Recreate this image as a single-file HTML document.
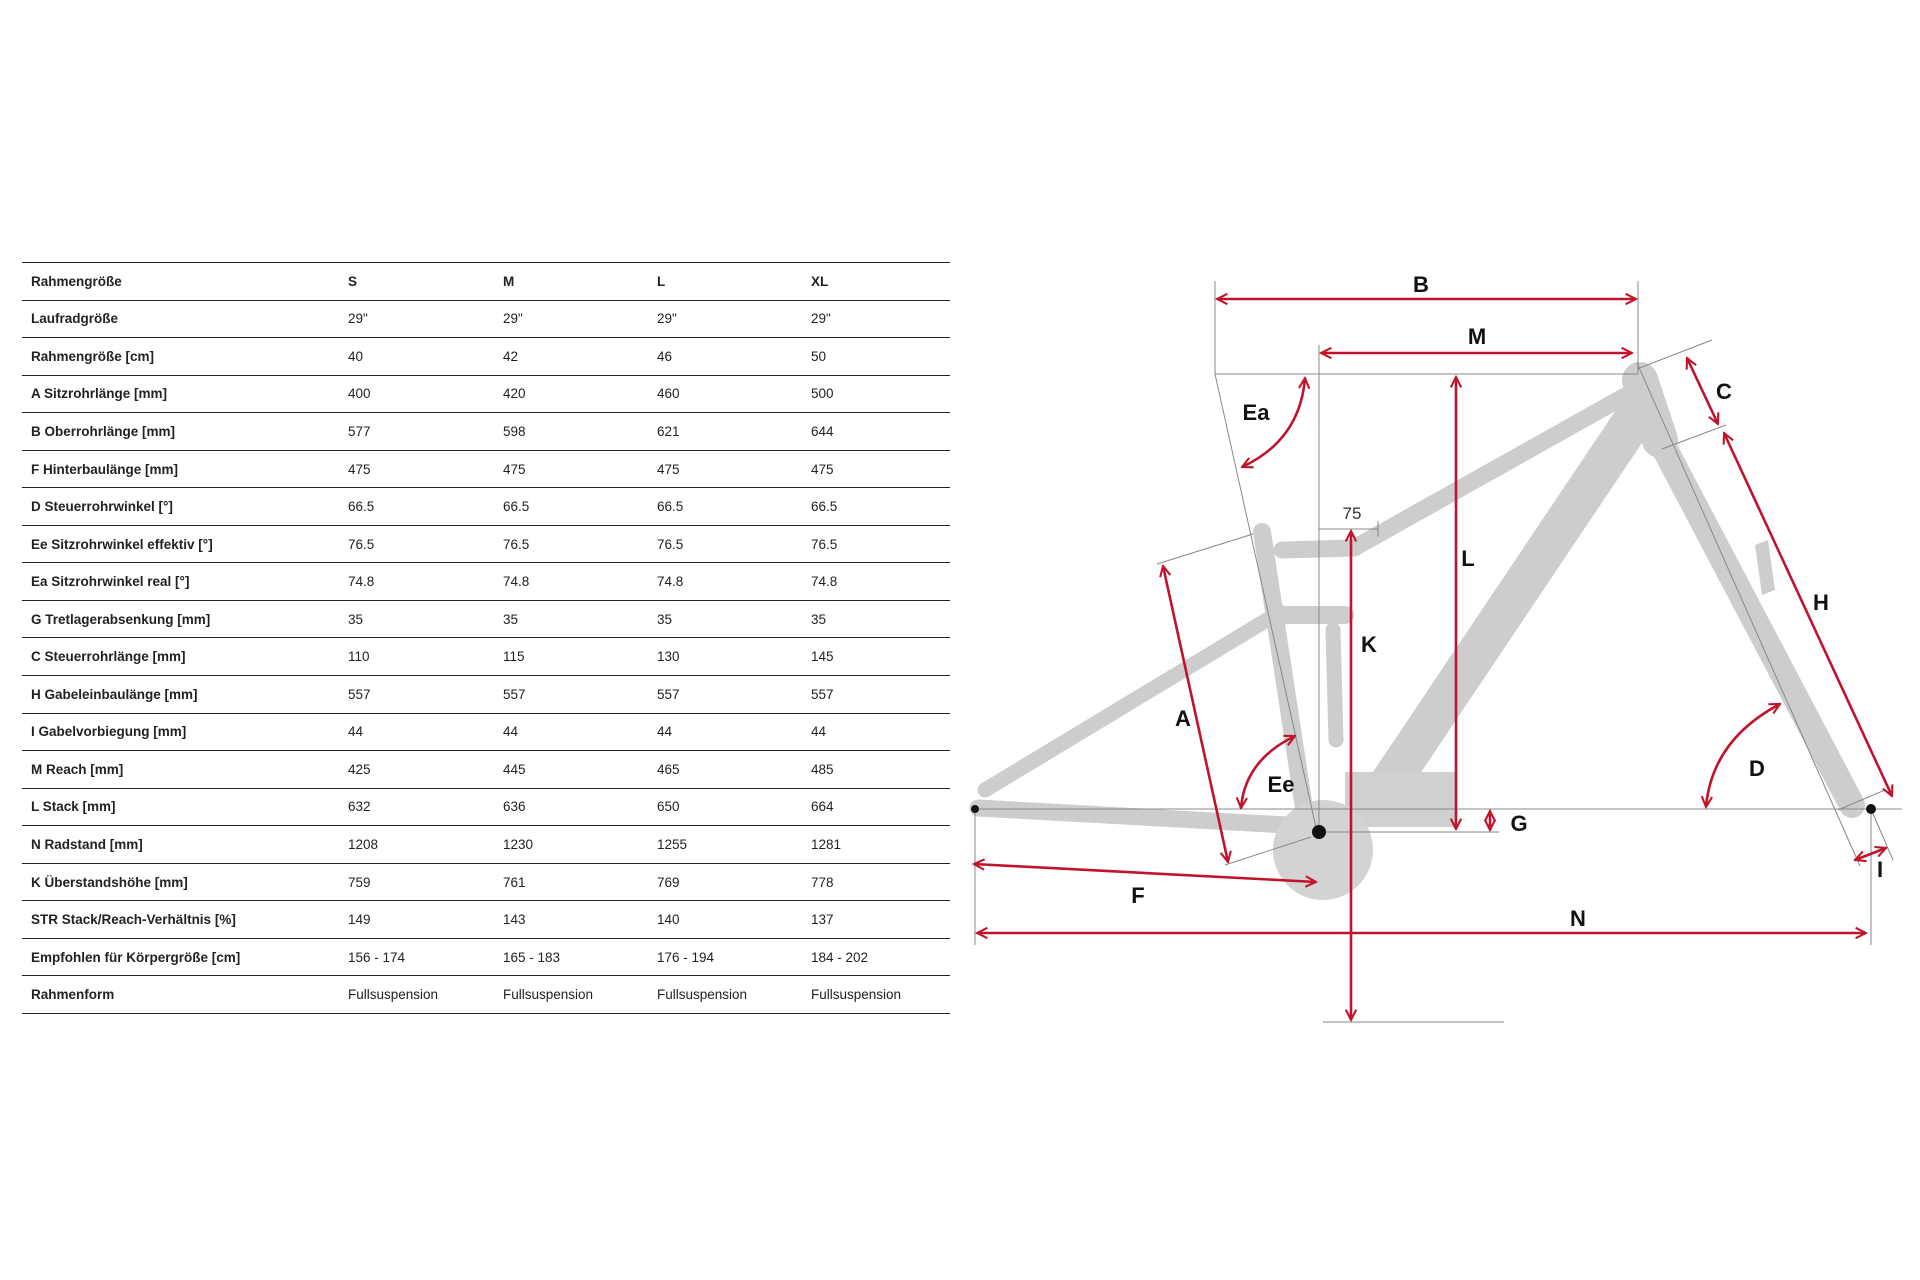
<!DOCTYPE html>
<html><head><meta charset="utf-8"><style>
html,body{margin:0;padding:0;background:#fff;}
body{width:1920px;height:1280px;position:relative;overflow:hidden;font-family:"Liberation Sans",sans-serif;}
table{position:absolute;left:22px;top:262px;width:928px;border-collapse:collapse;font-size:13.5px;color:#222;}
td{height:36.55px;border-top:1px solid #222;padding:0;vertical-align:middle;}
tr:last-child td{border-bottom:1px solid #222;}
td:first-child{padding-left:9px;width:317px;font-weight:bold;}
td:nth-child(2){width:155px}
td:nth-child(3){width:154px}
td:nth-child(4){width:154px}
tr:first-child td{font-weight:bold;}
svg{position:absolute;left:0;top:0;}
.l{font-family:"Liberation Sans",sans-serif;font-weight:bold;font-size:22px;fill:#111;text-anchor:middle;}
</style></head><body>
<table>
<tr><td>Rahmengröße</td><td>S</td><td>M</td><td>L</td><td>XL</td></tr>
<tr><td>Laufradgröße</td><td>29"</td><td>29"</td><td>29"</td><td>29"</td></tr>
<tr><td>Rahmengröße [cm]</td><td>40</td><td>42</td><td>46</td><td>50</td></tr>
<tr><td>A Sitzrohrlänge [mm]</td><td>400</td><td>420</td><td>460</td><td>500</td></tr>
<tr><td>B Oberrohrlänge [mm]</td><td>577</td><td>598</td><td>621</td><td>644</td></tr>
<tr><td>F Hinterbaulänge [mm]</td><td>475</td><td>475</td><td>475</td><td>475</td></tr>
<tr><td>D Steuerrohrwinkel [°]</td><td>66.5</td><td>66.5</td><td>66.5</td><td>66.5</td></tr>
<tr><td>Ee Sitzrohrwinkel effektiv [°]</td><td>76.5</td><td>76.5</td><td>76.5</td><td>76.5</td></tr>
<tr><td>Ea Sitzrohrwinkel real [°]</td><td>74.8</td><td>74.8</td><td>74.8</td><td>74.8</td></tr>
<tr><td>G Tretlagerabsenkung [mm]</td><td>35</td><td>35</td><td>35</td><td>35</td></tr>
<tr><td>C Steuerrohrlänge [mm]</td><td>110</td><td>115</td><td>130</td><td>145</td></tr>
<tr><td>H Gabeleinbaulänge [mm]</td><td>557</td><td>557</td><td>557</td><td>557</td></tr>
<tr><td>I Gabelvorbiegung [mm]</td><td>44</td><td>44</td><td>44</td><td>44</td></tr>
<tr><td>M Reach [mm]</td><td>425</td><td>445</td><td>465</td><td>485</td></tr>
<tr><td>L Stack [mm]</td><td>632</td><td>636</td><td>650</td><td>664</td></tr>
<tr><td>N Radstand [mm]</td><td>1208</td><td>1230</td><td>1255</td><td>1281</td></tr>
<tr><td>K Überstandshöhe [mm]</td><td>759</td><td>761</td><td>769</td><td>778</td></tr>
<tr><td>STR Stack/Reach-Verhältnis [%]</td><td>149</td><td>143</td><td>140</td><td>137</td></tr>
<tr><td>Empfohlen für Körpergröße [cm]</td><td>156 - 174</td><td>165 - 183</td><td>176 - 194</td><td>184 - 202</td></tr>
<tr><td>Rahmenform</td><td style="font-weight:normal">Fullsuspension</td><td>Fullsuspension</td><td>Fullsuspension</td><td>Fullsuspension</td></tr>
</table>
<svg width="1920" height="1280" viewBox="0 0 1920 1280">
<defs>
<marker id="a" viewBox="0 0 10 10" refX="9" refY="5" markerWidth="5" markerHeight="5" orient="auto-start-reverse"><path d="M1,1 L9,5 L1,9" fill="none" stroke="#c0142c" stroke-width="1.6"/></marker>
</defs>
<g stroke="#cdcdcd" stroke-linecap="round" fill="none">
<path d="M985,790 L1280,612" stroke-width="15"/>
<path d="M978,808 L1305,826" stroke-width="17"/>
<path d="M1262,532 L1305,815" stroke-width="18"/>
<path d="M1282,550 L1354,548 L1625,396" stroke-width="17"/>
<path d="M1640,410 L1385,790" stroke-width="40"/>
<path d="M1660,440 L1852,805" stroke-width="26"/>
<path d="M1640,380 L1660,440" stroke-width="36"/>
<path d="M1275,615 L1345,615" stroke-width="18"/>
<path d="M1333,630 L1336,740" stroke-width="15"/>
</g>
<rect x="1345" y="772" width="110" height="55" fill="#d0d0d0"/>
<circle cx="1323" cy="850" r="50" fill="#d3d3d3"/>
<path d="M1755,545 L1768,540 L1775,590 L1762,595 Z" fill="#cdcdcd"/>
<g stroke="#888" stroke-width="1" fill="none">
<line x1="1215" y1="281" x2="1215" y2="374"/>
<line x1="1638" y1="281" x2="1638" y2="374"/>
<line x1="1215" y1="374" x2="1638" y2="374"/>
<line x1="1319" y1="345" x2="1319" y2="832"/>
<line x1="1215" y1="374" x2="1317" y2="832"/>
<line x1="972" y1="809" x2="1902" y2="809"/>
<line x1="1319" y1="832" x2="1499" y2="832"/>
<line x1="1323" y1="1022" x2="1504" y2="1022"/>
<line x1="1319" y1="529" x2="1378" y2="529"/><line x1="1378" y1="521" x2="1378" y2="537"/>
<line x1="1157" y1="564" x2="1253" y2="534"/>
<line x1="1225" y1="865" x2="1311" y2="837"/>
<line x1="975" y1="812" x2="975" y2="945"/>
<line x1="1871" y1="812" x2="1871" y2="945"/>
<line x1="1637" y1="363" x2="1860" y2="866"/>
<line x1="1637" y1="369" x2="1712" y2="340"/>
<line x1="1662" y1="449" x2="1726" y2="425"/>
<line x1="1885" y1="790" x2="1838" y2="810"/>
<line x1="1871" y1="809" x2="1893" y2="860"/>
</g>
<g stroke="#c0142c" stroke-width="2.6" fill="none" marker-start="url(#a)" marker-end="url(#a)">
<line x1="1217" y1="299" x2="1636" y2="299"/>
<line x1="1321" y1="353" x2="1632" y2="353"/>
<line x1="1456" y1="377" x2="1456" y2="829"/>
<line x1="1351" y1="531" x2="1351" y2="1020"/>
<line x1="1490" y1="811" x2="1490" y2="830"/>
<line x1="974" y1="864" x2="1316" y2="882"/>
<line x1="977" y1="933" x2="1866" y2="933"/>
<line x1="1163" y1="566" x2="1228" y2="862"/>
<line x1="1687" y1="358" x2="1718" y2="424"/>
<line x1="1724" y1="433" x2="1892" y2="796"/>
<line x1="1855" y1="860" x2="1886" y2="848"/>
<path d="M1305,378 Q1300,440 1242,467"/>
<path d="M1295,736 Q1245,760 1241,808"/>
<path d="M1780,704 Q1712,740 1706,807"/>
</g>
<circle cx="1319" cy="832" r="7" fill="#111"/>
<circle cx="975" cy="809" r="4" fill="#111"/>
<circle cx="1871" cy="809" r="5" fill="#111"/>
<text class="l" x="1421" y="292">B</text>
<text class="l" x="1477" y="344">M</text>
<text class="l" x="1256" y="420">Ea</text>
<text class="l" x="1468" y="566">L</text>
<text class="l" x="1369" y="652">K</text>
<text x="1352" y="519" font-size="17" fill="#333" text-anchor="middle" font-family="Liberation Sans">75</text>
<text class="l" x="1183" y="726">A</text>
<text class="l" x="1281" y="792">Ee</text>
<text class="l" x="1519" y="831">G</text>
<text class="l" x="1138" y="903">F</text>
<text class="l" x="1578" y="926">N</text>
<text class="l" x="1724" y="399">C</text>
<text class="l" x="1821" y="610">H</text>
<text class="l" x="1757" y="776">D</text>
<text class="l" x="1880" y="877">I</text>
</svg>
</body></html>
